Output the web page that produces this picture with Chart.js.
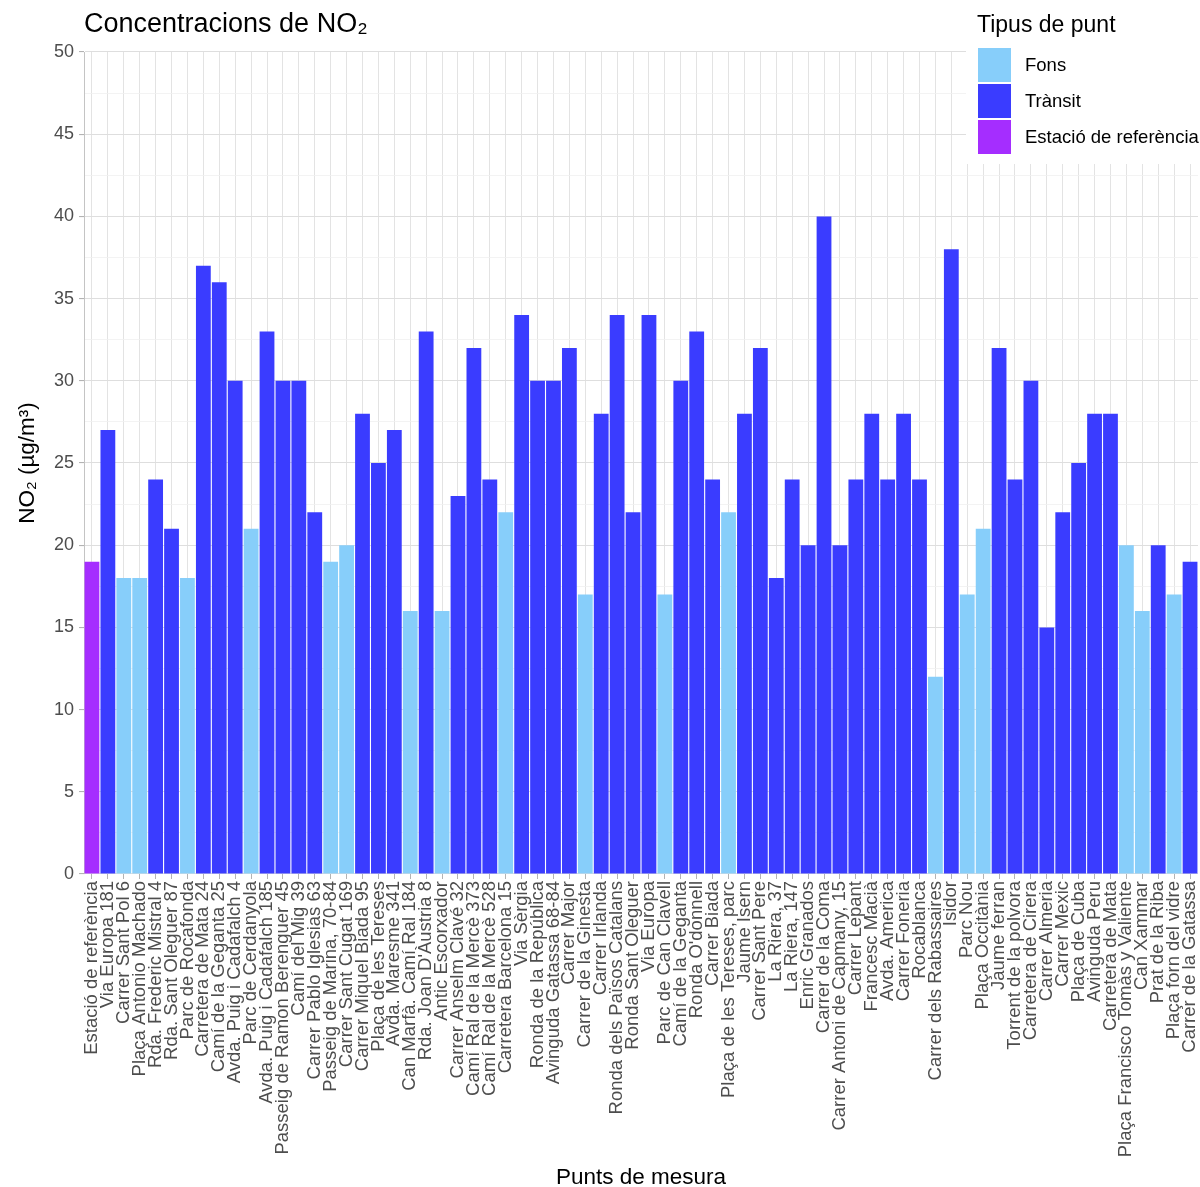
<!DOCTYPE html>
<html>
<head>
<meta charset="utf-8">
<script src="https://cdn.jsdelivr.net/npm/chart.js@4.4.1/dist/chart.umd.min.js"></script>
<style>
  html, body { margin: 0; padding: 0; background: #ffffff; }
  #wrap { width: 1200px; height: 1187px; }
</style>
</head>
<body>
<div id="wrap"><canvas id="c" width="1200" height="1187"></canvas></div>
<script>
const categories = [
  "Estació de referència", "Via Europa 181", "Carrer Sant Pol 6", "Plaça Antonio Machado",
  "Rda. Frederic Mistral 4", "Rda. Sant Oleguer 87", "Parc de Rocafonda", "Carretera de Mata 24",
  "Camí de la Geganta 25", "Avda. Puig i Cadafalch 4", "Parc de Cerdanyola", "Avda. Puig i Cadafalch 185",
  "Passeig de Ramon Berenguer 45", "Camí del Mig 39", "Carrer Pablo Iglesias 63", "Passeig de Marina, 70-84",
  "Carrer Sant Cugat 169", "Carrer Miquel Biada 95", "Plaça de les Tereses", "Avda. Maresme 341",
  "Can Marfà. Camí Ral 184", "Rda. Joan D'Àustria 8", "Antic Escorxador", "Carrer Anselm Clavé 32",
  "Camí Ral de la Mercè 373", "Camí Ral de la Mercè 528", "Carretera Barcelona 15", "Via Sèrgia",
  "Ronda de la República", "Avinguda Gatassa 68-84", "Carrer Major", "Carrer de la Ginesta",
  "Carrer Irlanda", "Ronda dels Països Catalans", "Ronda Sant Oleguer", "Via Europa",
  "Parc de Can Clavell", "Camí de la Geganta", "Ronda O'donnell", "Carrer Biada",
  "Plaça de les Tereses, parc", "Jaume Isern", "Carrer Sant Pere", "La Riera, 37",
  "La Riera, 147", "Enric Granados", "Carrer de la Coma", "Carrer Antoni de Capmany, 15",
  "Carrer Lepant", "Francesc Macià", "Avda. America", "Carrer Foneria",
  "Rocablanca", "Carrer dels Rabassaires", "Isidor", "Parc Nou",
  "Plaça Occitània", "Jaume ferran", "Torrent de la polvora", "Carretera de Cirera",
  "Carrer Almeria", "Carrer Mexic", "Plaça de Cuba", "Avinguda Peru",
  "Carretera de Mata", "Plaça Francisco Tomàs y Valiente", "Can Xammar", "Prat de la Riba",
  "Plaça forn del vidre", "Carrer de la Gatassa"
];

const no2Values = [
  19, 27, 18, 18, 24, 21, 18, 37, 36, 30,
  21, 33, 30, 30, 22, 19, 20, 28, 25, 27,
  16, 33, 16, 23, 32, 24, 22, 34, 30, 30,
  32, 17, 28, 34, 22, 34, 17, 30, 33, 24,
  22, 28, 32, 18, 24, 20, 40, 20, 24, 28,
  24, 28, 24, 12, 38, 17, 21, 32, 24, 30,
  15, 22, 25, 28, 28, 20, 16, 20, 17, 19
];

// R = Estació de referència, F = Fons, T = Trànsit
const pointTypes = [
  "R","T","F","F","T","T","F","T","T","T",
  "F","T","T","T","T","F","F","T","T","T",
  "F","T","F","T","T","T","F","T","T","T",
  "T","F","T","T","T","T","F","T","T","T",
  "F","T","T","T","T","T","T","T","T","T",
  "T","T","T","F","T","F","F","T","T","T",
  "T","T","T","T","T","F","F","T","F","T"
];

const typeKeys = ["F", "T", "R"];
const typeNames = ["Fons", "Trànsit", "Estació de referència"];
const typeColors = ["#87cefa", "#3a3cff", "#a52dff"];

const yTicksMajor = [0, 5, 10, 15, 20, 25, 30, 35, 40, 45, 50];

const FONT = "'Liberation Sans', Arial, sans-serif";

const datasets = typeKeys.map((k, i) => ({
  label: typeNames[i],
  data: no2Values.map((v, j) => pointTypes[j] === k ? v : null),
  backgroundColor: typeColors[i],
  borderWidth: 0,
  categoryPercentage: 1.0,
  barPercentage: 0.93,
  stack: "s"
}));

const decorPlugin = {
  id: "decor",
  afterDraw(chart) {
    const ctx = chart.ctx;
    ctx.save();
    // title
    ctx.fillStyle = "#000000";
    ctx.font = "27px " + FONT;
    ctx.textBaseline = "middle";
    ctx.textAlign = "left";
    ctx.fillText("Concentracions de NO\u2082", 84, 25);

    // legend
    ctx.fillStyle = "#ffffff";
    ctx.fillRect(966, 4, 234, 160);
    ctx.fillStyle = "#000000";
    ctx.font = "23px " + FONT;
    ctx.fillText("Tipus de punt", 977, 26);
    ctx.font = "18.5px " + FONT;
    for (let i = 0; i < typeNames.length; i++) {
      const y0 = 48 + i * 36;
      ctx.fillStyle = typeColors[i];
      ctx.fillRect(978, y0, 33, 34);
      ctx.fillStyle = "#000000";
      ctx.fillText(typeNames[i], 1025, y0 + 18);
    }
    ctx.restore();
  }
};

new Chart(document.getElementById("c"), {
  type: "bar",
  data: { labels: categories, datasets: datasets },
  options: {
    responsive: false,
    animation: false,
    layout: { padding: { top: 52, right: 2, left: 0, bottom: 0 } },
    plugins: {
      legend: { display: false },
      title: { display: false },
      tooltip: { enabled: false }
    },
    scales: {
      x: {
        stacked: true,
        offset: true,
        grid: {
          offset: false,
          color: "#e3e3e3",
          lineWidth: 1,
          drawTicks: true,
          tickLength: 5,
          tickColor: "#b3b3b3"
        },
        border: { display: false },
        ticks: {
          autoSkip: false,
          minRotation: 90,
          maxRotation: 90,
          padding: 2,
          color: "#4d4d4d",
          font: { family: FONT, size: 18.5 }
        },
        title: {
          display: true,
          text: "Punts de mesura",
          color: "#000000",
          font: { family: FONT, size: 22.5, lineHeight: 0.8 },
          padding: { top: 0, bottom: 0 }
        },
        afterFit(scale) {
          scale.height = 1187 - 874;
          scale.paddingLeft = 0;
          scale.paddingRight = 0;
        }
      },
      y: {
        stacked: true,
        min: 0,
        max: 50,
        grid: {
          color: (c) => (c.tick && c.tick.value % 5 === 0) ? "#dedede" : "#f0f0f0",
          lineWidth: (c) => (c.tick && c.tick.value % 5 === 0) ? 1.1 : 0.8,
          tickLength: 5,
          tickColor: (c) => (c.tick && c.tick.value % 5 === 0) ? "#b3b3b3" : "rgba(0,0,0,0)"
        },
        border: { display: true, color: "#c4c4c4", width: 1 },
        ticks: {
          stepSize: 2.5,
          autoSkip: false,
          padding: 5,
          color: "#4d4d4d",
          font: { family: FONT, size: 18 },
          callback: (v) => yTicksMajor.includes(v) ? String(v) : ""
        },
        title: {
          display: true,
          text: "NO\u2082 (\u00b5g/m\u00b3)",
          color: "#000000",
          font: { family: FONT, size: 22.5, lineHeight: 1.2 },
          padding: { top: 14, bottom: 0 }
        },
        afterFit(scale) {
          scale.width = 84;
          scale.paddingTop = 0;
          scale.paddingBottom = 0;
        }
      }
    }
  },
  plugins: [decorPlugin]
});
</script>
</body>
</html>
